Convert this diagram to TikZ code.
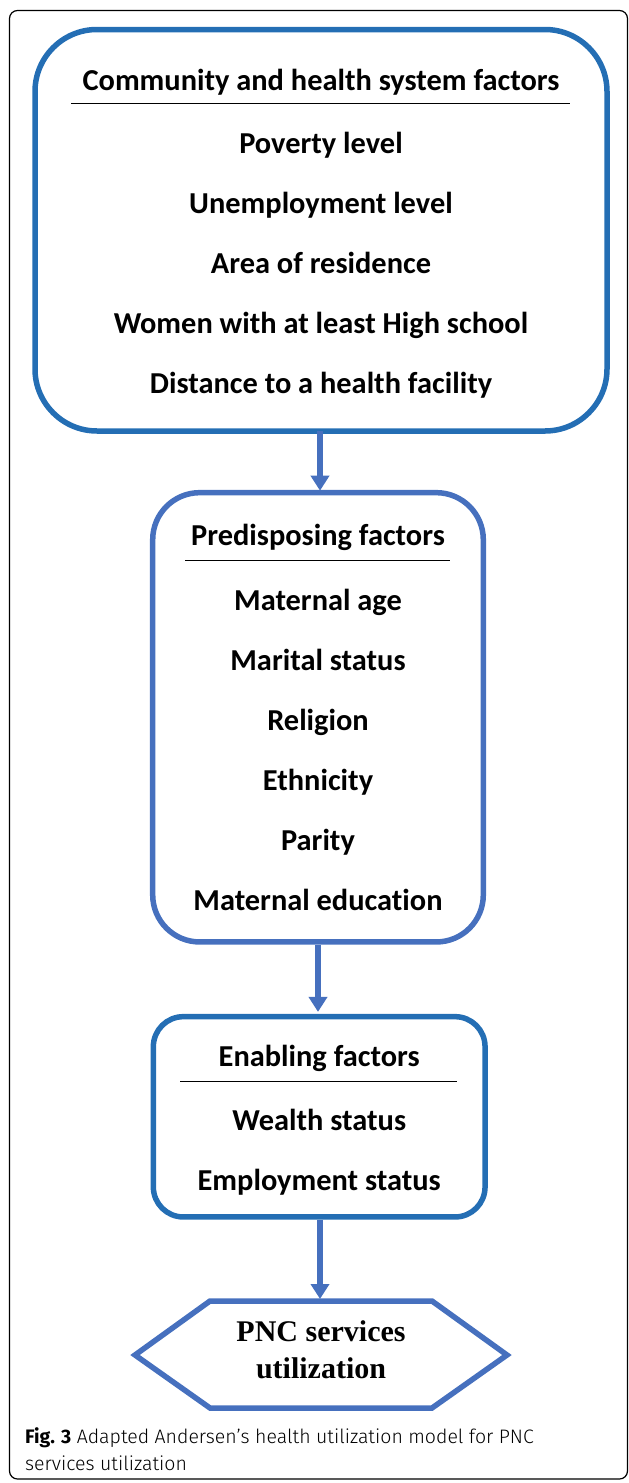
\documentclass[tikz,border=0pt]{standalone}
\usepackage{fontspec}
\setmainfont{Carlito}[Ligatures=CommonOff]
\newfontfamily\hexfont{Liberation Serif}
\IfFontExistsTF{Fira Sans Light}{\newfontfamily\capfont{Fira Sans Light}}{\newfontfamily\capfont{Fira Sans}}
\newfontfamily\capbf{Fira Sans}
\usetikzlibrary{arrows.meta}
\definecolor{boxblue}{RGB}{36,110,180}
\definecolor{arrowblue}{RGB}{70,112,190}
\tikzset{
  factorbox/.style={draw=#1, line width=5.5pt, inner sep=0pt},
  factoritem/.style={anchor=base, inner sep=0pt, font=\fontsize{30.4}{36}\selectfont\bfseries},
  flowarrow/.style={draw=arrowblue, line width=6.5pt, -{Triangle[width=18pt,length=15pt]}, shorten >=2pt},
}
\begin{document}
\begin{tikzpicture}[x=1pt, y=-1pt]
  \useasboundingbox (0,0) rectangle (629,1483);

  % Frame
  \draw[line width=1.2pt, rounded corners=8pt] (9.5,10.5) rectangle (627.5,1479);

  % Community and health system factors
  \node[factorbox=boxblue, rounded corners=62pt, minimum width=572pt, minimum height=401.5pt] (comm) at (321,230.25) {};
  \node[factoritem] (commtitle) at (321,90) {Community and health system factors};
  \draw[line width=1.5pt] (71,103.3) -- (570,103.3);
  \node[factoritem] (poverty) at (321,153) {Poverty level};
  \node[factoritem] (unemp) at (321,213) {Unemployment level};
  \node[factoritem] (area) at (321,273) {Area of residence};
  \node[factoritem] (school) at (321,333) {Women with at least High school};
  \node[factoritem] (distance) at (321,393) {Distance to a health facility};

  % Predisposing factors
  \node[factorbox=arrowblue, rounded corners=47pt, minimum width=330.6pt, minimum height=449.3pt] (pred) at (318,717.3) {};
  \node[factoritem] (predtitle) at (318,545.7) {Predisposing factors};
  \draw[line width=1.5pt] (185,560.7) -- (450,560.7);
  \node[factoritem] (age) at (318,610) {Maternal age};
  \node[factoritem] (marital) at (318,670) {Marital status};
  \node[factoritem] (religion) at (318,730) {Religion};
  \node[factoritem] (ethnic) at (318,790) {Ethnicity};
  \node[factoritem] (parity) at (318,850) {Parity};
  \node[factoritem] (edu) at (318,910) {Maternal education};

  % Enabling factors
  \node[factorbox=boxblue, rounded corners=30pt, minimum width=331.7pt, minimum height=200.3pt] (enab) at (319.2,1116.8) {};
  \node[factoritem] (enabtitle) at (319.2,1066.7) {Enabling factors};
  \draw[line width=1.5pt] (180,1081.7) -- (457,1081.7);
  \node[factoritem] (wealth) at (319.2,1130) {Wealth status};
  \node[factoritem] (employ) at (319.2,1190) {Employment status};

  % Outcome
  \draw[draw=arrowblue, line width=5.5pt, line join=miter]
    (135,1355) -- (210,1301) -- (432,1301) -- (507,1355) -- (432,1408) -- (210,1408) -- cycle;
  \coordinate (pnctop) at (320,1301);
  \node[anchor=base, inner sep=0pt, font=\hexfont\fontsize{30}{36}\selectfont\bfseries] (pnc1) at (321,1341.7) {PNC services};
  \node[anchor=base, inner sep=0pt, font=\hexfont\fontsize{30}{36}\selectfont\bfseries] (pnc2) at (321,1378.3) {utilization};

  % Arrows
  \draw[flowarrow] (320,431) -- (320,492.7);
  \draw[flowarrow] (pred.south) -- (pred.south |- enab.north);
  \draw[flowarrow] (enab.south -| pnctop) -- (pnctop);

  % Caption
  \node[anchor=base west, inner sep=0pt, font=\capfont\fontsize{19.5}{26}\selectfont] (cap1) at (25,1443)
    {{\capbf\bfseries Fig. 3} Adapted Andersen’s health utilization model for PNC};
  \node[anchor=base west, inner sep=0pt, font=\capfont\fontsize{19.5}{26}\selectfont] (cap2) at (25,1470)
    {services utilization};
\end{tikzpicture}
\end{document}
